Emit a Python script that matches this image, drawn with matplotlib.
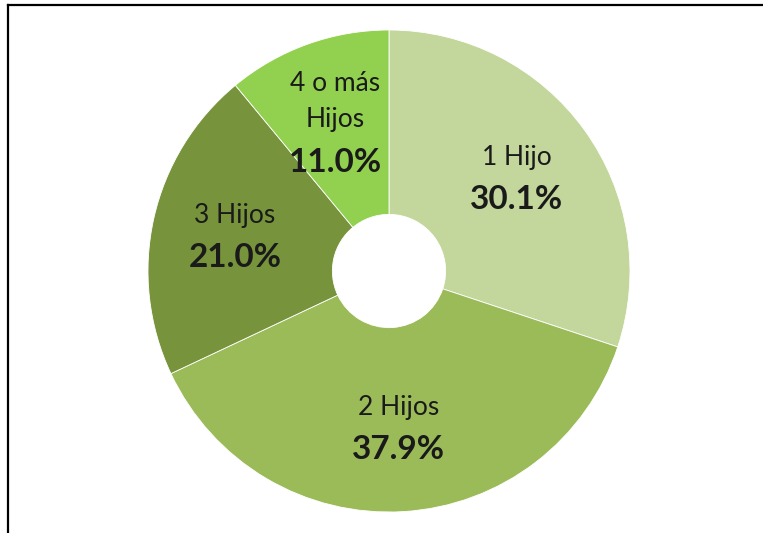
import numpy as np
import matplotlib
matplotlib.use("Agg")
import matplotlib.pyplot as plt
from matplotlib.lines import Line2D

labels = ["1 Hijo", "2 Hijos", "3 Hijos", "4 o más\nHijos"]
shares = [30.1, 37.9, 21.0, 11.0]
colors = ["#c3d69b", "#9bbb59", "#77933c", "#92d050"]

plt.rcParams['font.family'] = ['Lato', 'DejaVu Sans']

fig = plt.figure(figsize=(7.63, 5.33), dpi=100)
# pie centre ~ (389, 271) px, radius ~241 px
ax = fig.add_axes([148 / 763, 21 / 533, 482 / 763, 482 / 533])

wedges, _ = ax.pie(shares, colors=colors, startangle=90, counterclock=False,
                   radius=1, wedgeprops=dict(width=0.765, edgecolor="white", linewidth=0.6))
ax.set_xlim(-1, 1)
ax.set_ylim(-1, 1)
ax.set_aspect("equal")
ax.axis("off")

px = 72 / 100  # points per pixel
for w, lab, s in zip(wedges, labels, shares):
    ang = np.deg2rad((w.theta1 + w.theta2) / 2)
    r = 0.655
    x, y = r * np.cos(ang), r * np.sin(ang)
    lines = lab.split("\n")
    if len(lines) == 1:
        offs = [21]
        pct_off = -21
    else:
        offs = [39, 3]
        pct_off = -40
    for ln, o in zip(lines, offs):
        ax.annotate(ln, (x, y), xytext=(0, o * px), textcoords="offset points",
                    ha="center", va="center", fontsize=19, color="#1a1a1a")
    ax.annotate(f"{s:.1f}%", (x, y), xytext=(0, pct_off * px), textcoords="offset points",
                ha="center", va="center", fontsize=24, fontweight="bold", color="#1a1a1a")

# frame lines (top and left only visible)
fig.add_artist(Line2D([8 / 763, 8 / 763], [0, 1 - 5 / 533], transform=fig.transFigure,
                      color="black", linewidth=1.6))
fig.add_artist(Line2D([8 / 763, 1], [1 - 5 / 533, 1 - 5 / 533], transform=fig.transFigure,
                      color="black", linewidth=1.6))

fig.savefig("out.png", dpi=100)
